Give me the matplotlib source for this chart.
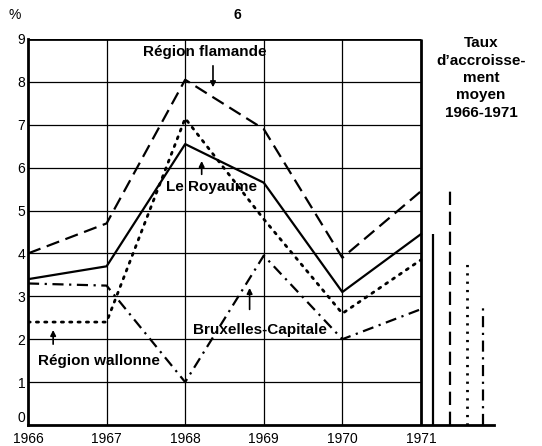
import matplotlib
matplotlib.use('agg')
import matplotlib.pyplot as plt

plt.rcParams['font.family'] = ['Liberation Sans', 'DejaVu Sans']

years = [1966, 1967, 1968, 1969, 1970, 1971]
flamande = [4.0, 4.7, 8.05, 6.9, 3.9, 5.45]
royaume = [3.4, 3.7, 6.55, 5.65, 3.1, 4.45]
wallonne = [2.4, 2.4, 7.15, 4.8, 2.6, 3.85]
bruxelles = [3.3, 3.25, 1.0, 3.95, 2.0, 2.7]

# average growth rate 1966-1971 (bars to the right of the chart)
moyen_x = [1971.15, 1971.37, 1971.585, 1971.79]
moyen = [4.45, 5.5, 3.85, 2.72]

dash = (0, (6, 3))
dot = (0, (0.8, 2.2))
dashdot = (0, (5, 2.5, 1, 2.5))
styles = ['-', dash, dot, dashdot]

fig = plt.figure(figsize=(5.42, 4.46), dpi=100)
ax = fig.add_axes([28/542, 1-425/446, 466/542, 386/446])
ax.set_xlim(1966, 1971.93)
ax.set_ylim(0, 9)

# grid inside the year range only
for y in range(1, 9):
	ax.hlines(y, 1966, 1971, color='black', lw=0.9, zorder=1)
for x in years[1:-1]:
	ax.vlines(x, 0, 9, color='black', lw=0.9, zorder=1)
ax.vlines(1971, 0, 9, color='black', lw=2, zorder=2)
ax.hlines(9, 1966, 1971, color='black', lw=2, zorder=2)

ax.plot(years, flamande, color='black', lw=1.6, linestyle=dash, zorder=3)
ax.plot(years, royaume, color='black', lw=1.6, linestyle='-', zorder=3)
ax.plot(years, wallonne, color='black', lw=2.0, linestyle=dot, dash_capstyle='round', zorder=3)
ax.plot(years, bruxelles, color='black', lw=1.6, linestyle=dashdot, zorder=3)

for x, h, ls in zip(moyen_x, moyen, styles):
	ax.vlines(x, 0, h, color='black', lw=2.0 if ls is dot else 1.6, linestyle=ls, zorder=3)

for s in ['top', 'right']:
	ax.spines[s].set_visible(False)
ax.spines['left'].set_linewidth(2)
ax.spines['bottom'].set_linewidth(2)

ax.set_xticks(years)
ax.set_xticklabels([str(y) for y in years], fontsize=10)
ax.set_yticks(range(0, 10))
ax.set_yticklabels([str(i) for i in range(0, 10)], fontsize=10)
ax.tick_params(axis='y', length=0, pad=2)
ax.tick_params(axis='x', length=0, pad=5)
ax.get_yticklabels()[0].set_va('bottom')

lab = dict(fontsize=11, fontweight='bold', ha='center', va='center', zorder=4)
arr = dict(arrowstyle='-|>', color='black', lw=1.2, mutation_scale=8)
ax.text(1968.25, 8.69, 'Région flamande', **lab)
ax.annotate('', xy=(1968.354, 7.81), xytext=(1968.354, 8.44), arrowprops=arr)
ax.text(1968.34, 5.55, 'Le Royaume', **lab)
ax.annotate('', xy=(1968.21, 6.22), xytext=(1968.21, 5.78), arrowprops=arr)
ax.text(1968.95, 2.21, 'Bruxelles-Capitale', **lab)
ax.annotate('', xy=(1968.82, 3.26), xytext=(1968.82, 2.63), arrowprops=arr)
ax.text(1966.90, 1.49, 'Région wallonne', **lab)
ax.annotate('', xy=(1966.32, 2.28), xytext=(1966.32, 1.82), arrowprops=arr)

fig.text(237/542, 1-15/446, '6', fontsize=10, fontweight='bold', ha='center', va='center')
fig.text(15/542, 1-15/446, '%', fontsize=10, ha='center', va='center')
fig.text(481/542, 1-78/446, "Taux\nd\u2019accroisse-\nment\nmoyen\n1966-1971",
	fontsize=11, fontweight='bold', ha='center', va='center', linespacing=1.3)

fig.savefig('out.png', dpi=100)
